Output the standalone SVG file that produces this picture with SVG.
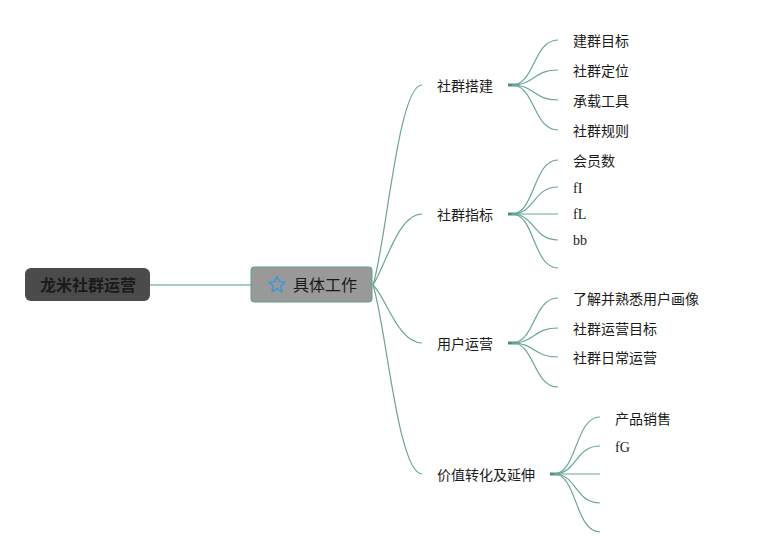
<svg xmlns="http://www.w3.org/2000/svg" width="759" height="557" viewBox="0 0 759 557">
<style>
.t{font-family:"Noto Sans CJK SC","Liberation Sans",sans-serif;font-size:14px;fill:#1a1a1a}
.s{font-family:"Liberation Serif","Noto Sans CJK SC",serif;font-size:14px;fill:#1a1a1a}
.c{fill:none;stroke:#6aa692;stroke-width:1.2}
.j{fill:none;stroke:#4f8f7a;stroke-width:3}
</style>
<rect width="759" height="557" fill="#ffffff"/>
<g id="connectors">
<line x1="150" y1="285" x2="251" y2="285" stroke="#9fcfc0" stroke-width="1.8"/>
<path class="c" d="M373,285 C386,245 398,85 422,85"/>
<path class="c" d="M373,285 C386,265 398,214 422,214"/>
<path class="c" d="M373,285 C386,297 398,343 422,343"/>
<path class="c" d="M373,285 C386,325 398,474 422,474"/>
<line class="j" x1="508" y1="85" x2="517" y2="85"/>
<path class="c" d="M512,85 C535,85 533,40 558,40"/>
<path class="c" d="M512,85 C535,85 533,70 558,70"/>
<path class="c" d="M512,85 C535,85 533,100 558,100"/>
<path class="c" d="M512,85 C535,85 533,130 558,130"/>
<line class="j" x1="508" y1="214" x2="517" y2="214"/>
<path class="c" d="M512,214 C535,214 533,160 558,160"/>
<path class="c" d="M512,214 C535,214 533,187 558,187"/>
<path class="c" d="M512,214 L558,214"/>
<path class="c" d="M512,214 C535,214 533,240 558,240"/>
<path class="c" d="M512,214 C535,214 533,268 558,268"/>
<line class="j" x1="508" y1="343" x2="517" y2="343"/>
<path class="c" d="M512,343 C535,343 533,298 558,298"/>
<path class="c" d="M512,343 C535,343 533,328 558,328"/>
<path class="c" d="M512,343 C535,343 533,357 558,357"/>
<path class="c" d="M512,343 C535,343 533,387 558,387"/>
<line class="j" x1="550" y1="474" x2="559" y2="474"/>
<path class="c" d="M554,474 C577,474 575,417 600,417"/>
<path class="c" d="M554,474 C577,474 575,446 600,446"/>
<path class="c" d="M554,474 L600,474"/>
<path class="c" d="M554,474 C577,474 575,503 600,503"/>
<path class="c" d="M554,474 C577,474 575,532 600,532"/>
</g>
<g id="root">
<rect x="25" y="268" width="125" height="33" rx="6" fill="#4b4b4b"/>
<text x="88" y="291" text-anchor="middle" font-family="'Noto Sans CJK SC','Liberation Sans',sans-serif" font-size="16" font-weight="bold" fill="#1a1a1a">龙米社群运营</text>
</g>
<g id="main">
<rect x="251" y="267" width="121" height="35" rx="3" fill="#999999" stroke="#5f9e8a" stroke-width="1"/>
<polygon points="277,276.5 279.4,281.7 285,282.3 280.8,286.1 282,291.6 277,288.8 272,291.6 273.2,286.1 269,282.3 274.6,281.7" fill="none" stroke="#3a9ad9" stroke-width="1.6" stroke-linejoin="round"/>
<text x="293" y="291" font-family="'Noto Sans CJK SC','Liberation Sans',sans-serif" font-size="16" fill="#1a1a1a">具体工作</text>
</g>
<g id="b1"><text class="t" x="437" y="91">社群搭建</text></g>
<g id="b1c1"><text class="t" x="573" y="46">建群目标</text></g>
<g id="b1c2"><text class="t" x="573" y="76">社群定位</text></g>
<g id="b1c3"><text class="t" x="573" y="106">承载工具</text></g>
<g id="b1c4"><text class="t" x="573" y="136">社群规则</text></g>
<g id="b2"><text class="t" x="437" y="220">社群指标</text></g>
<g id="b2c1"><text class="t" x="573" y="166">会员数</text></g>
<g id="b2c2"><text class="s" x="573" y="193">fI</text></g>
<g id="b2c3"><text class="s" x="573" y="219">fL</text></g>
<g id="b2c4"><text class="s" x="573" y="245">bb</text></g>
<g id="b3"><text class="t" x="437" y="349">用户运营</text></g>
<g id="b3c1"><text class="t" x="573" y="304">了解并熟悉用户画像</text></g>
<g id="b3c2"><text class="t" x="573" y="334">社群运营目标</text></g>
<g id="b3c3"><text class="t" x="573" y="363">社群日常运营</text></g>
<g id="b4"><text class="t" x="437" y="480">价值转化及延伸</text></g>
<g id="b4c1"><text class="t" x="615" y="424">产品销售</text></g>
<g id="b4c2"><text class="s" x="615" y="452">fG</text></g>
</svg>
